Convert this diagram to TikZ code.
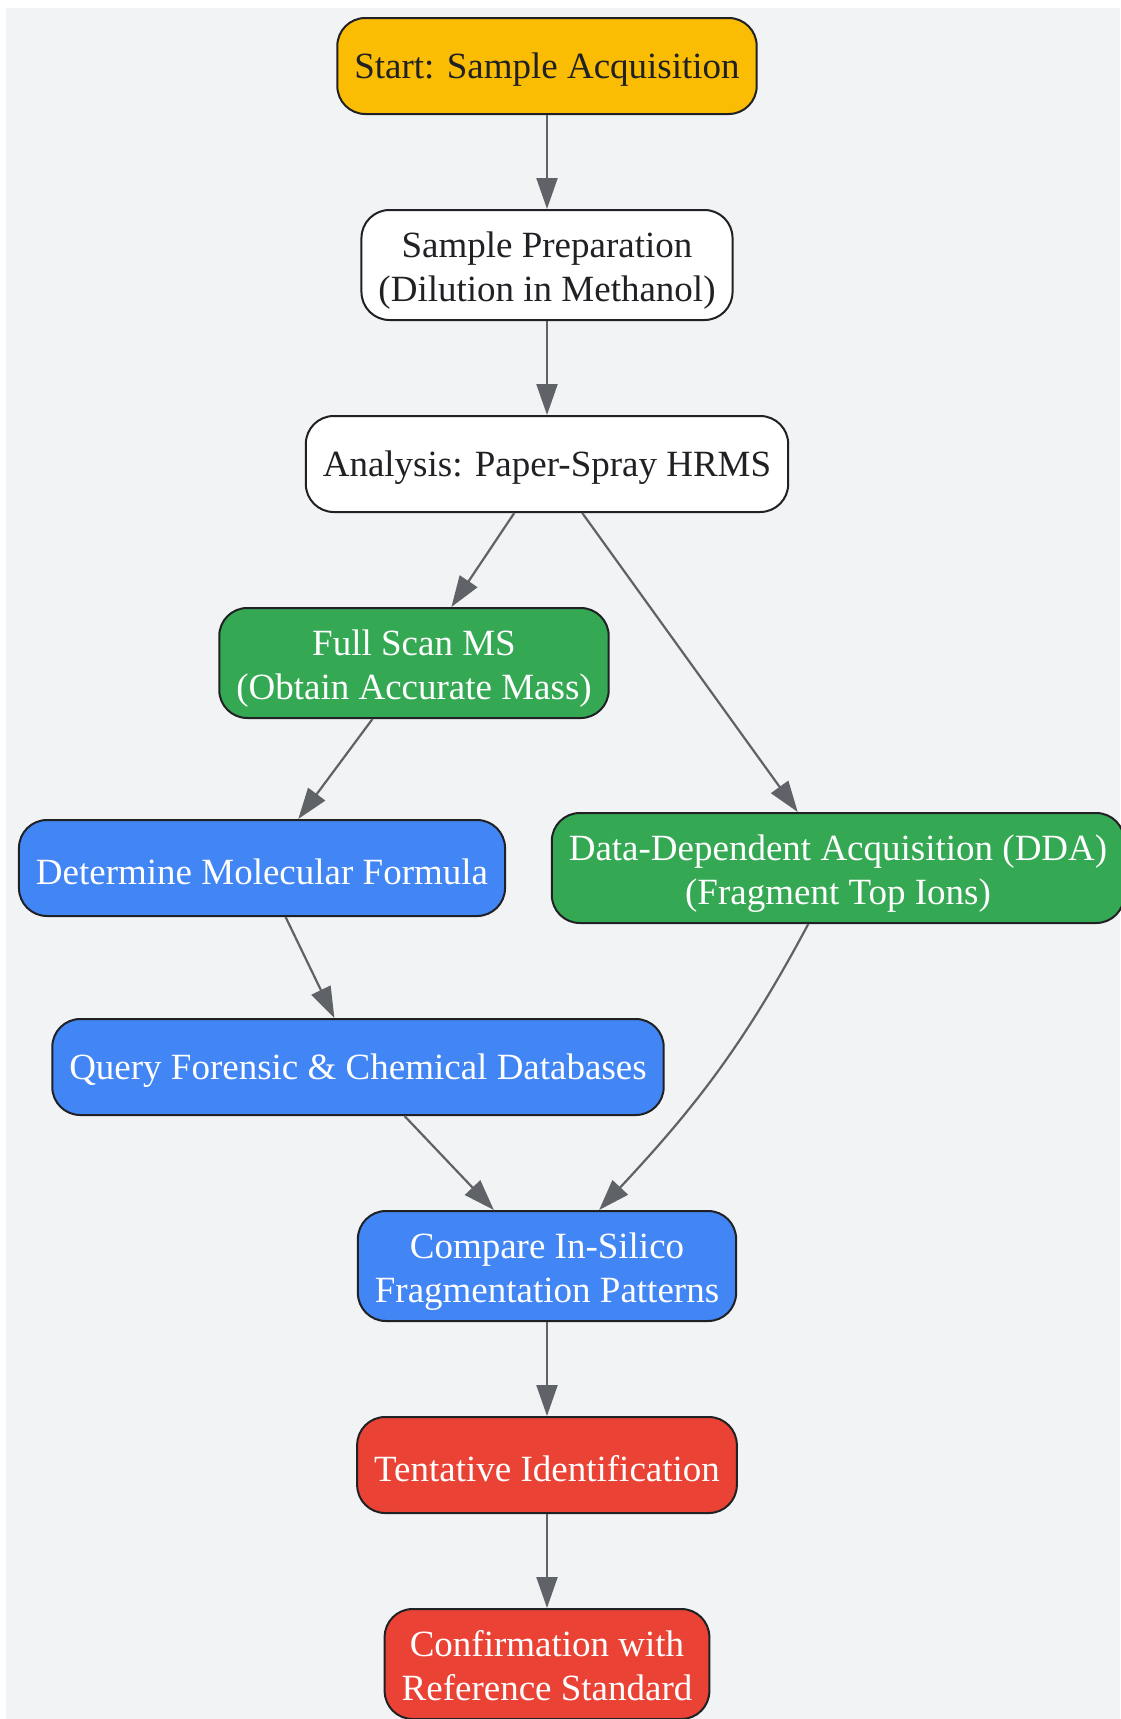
\documentclass[tikz,border=0pt]{standalone}
\usepackage{fontspec}
\setmainfont{Liberation Serif}
\usetikzlibrary{positioning,arrows.meta}
\definecolor{bggray}{HTML}{F1F3F4}
\definecolor{ink}{HTML}{202124}
\definecolor{edgegray}{HTML}{5F6368}
\definecolor{gyellow}{HTML}{FBBC04}
\definecolor{ggreen}{HTML}{34A853}
\definecolor{gblue}{HTML}{4285F4}
\definecolor{gred}{HTML}{EA4335}
\tikzset{
  box/.style={draw=ink, line width=2pt, rounded corners=28pt, align=center,
    inner xsep=17pt, inner ysep=10pt, minimum height=96pt, text=ink,
    font=\fontsize{37}{44}\selectfont,
    execute at begin node={\rule{0pt}{33pt}}},
  twoline/.style={text height=81pt, text depth=9pt},
  startbox/.style={box, fill=gyellow},
  plainbox/.style={box, fill=white},
  greenbox/.style={box, fill=ggreen, text=white},
  bluebox/.style={box, fill=gblue, text=white},
  redbox/.style={box, fill=gred, text=white},
  flow/.style={draw=edgegray, line width=2.2pt, -{Triangle[length=31pt, width=21pt]}}
}
\begin{document}
\begin{tikzpicture}[x=1pt, y=1pt, node distance = 199pt]
    \useasboundingbox (0,0) rectangle (1120,-1719);
    \fill[bggray] (6,-8) rectangle (1120,-1719);
    \node[startbox] (A) at (547,-66) {Start: Sample Acquisition};
    \node[plainbox, twoline, below of = A] (B) {Sample Preparation\\(Dilution in Methanol)};
    \node[plainbox, below of = B] (C) {Analysis: Paper-Spray HRMS};
    \node[greenbox, twoline, below of = C, xshift=-133pt] (D) {Full Scan MS\\(Obtain Accurate Mass)};
    \node[bluebox, below of = D, xshift=-152pt, yshift=-6pt] (E) {Determine Molecular Formula};
    \node[greenbox, twoline, below of = D, xshift=424pt, yshift=-6pt] (F) {Data-Dependent Acquisition (DDA)\\(Fragment Top Ions)};
    \node[bluebox, below of = E, xshift=96pt] (G) {Query Forensic \& Chemical Databases};
    \node[bluebox, twoline, below of = G, xshift=189pt] (H) {Compare In-Silico\\Fragmentation Patterns};
    \node[redbox, below of = H] (I) {Tentative Identification};
    \node[redbox, twoline, below of = I] (J) {Confirmation with\\Reference Standard};
    \foreach \i\j in {A/B, B/C, C/D, C/F, D/E, E/G, G/H, H/I, I/J} {
      \draw[flow] (\i) -- (\j);
    }
    \draw[flow] (F) to[out=-118, in=47] (H);
  \end{tikzpicture}
\end{document}
